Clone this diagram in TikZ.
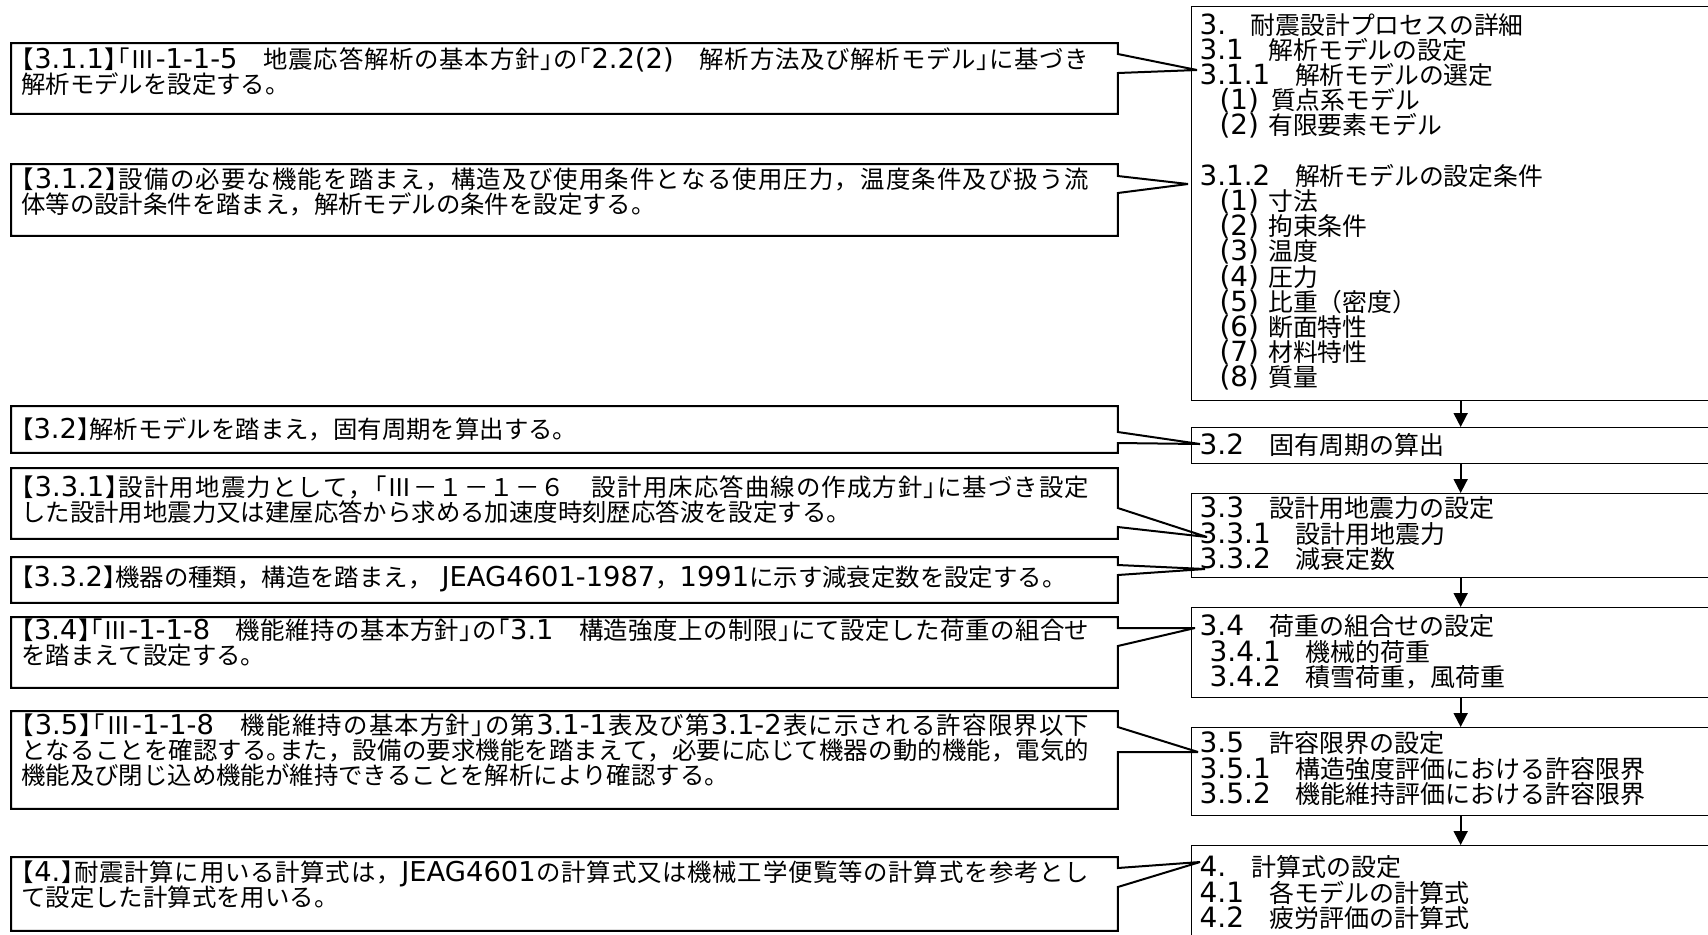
\documentclass[tikz,border=0pt]{standalone}
\usepackage{fontspec}
\setmainfont{DejaVu Sans}[Scale=1.12]
\newfontfamily\jpfont{Noto Sans CJK JP}
\newfontfamily\brfont{Noto Sans CJK JP}[CharacterWidth=AlternateHalf]
\newfontfamily\lafont{DejaVu Sans}[Scale=1.12]
\usetikzlibrary{arrows.meta}
% kana, kanji and full-width forms in the Japanese font, brackets half width,
% stretchable glue between the characters so that lines can be justified
\XeTeXinterchartokenstate=1
\newXeTeXintercharclass\jpclass
\newXeTeXintercharclass\brclass
\newcount\jpcnt
\jpcnt="2150 \loop\XeTeXcharclass\jpcnt=\jpclass \advance\jpcnt by 1 \ifnum\jpcnt<"2190 \repeat
\jpcnt="3000 \loop\XeTeXcharclass\jpcnt=\jpclass \advance\jpcnt by 1 \ifnum\jpcnt<"A000 \repeat
\jpcnt="FF00 \loop\XeTeXcharclass\jpcnt=\jpclass \advance\jpcnt by 1 \ifnum\jpcnt<"FFF0 \repeat
\XeTeXcharclass"3010=\brclass \XeTeXcharclass"3011=\brclass
\XeTeXcharclass"300C=\brclass \XeTeXcharclass"300D=\brclass
\XeTeXcharclass"3002=\brclass
\def\jpglue{\hskip0pt plus0.5em minus0.04em\relax}
\XeTeXinterchartoks 0 \jpclass = {\jpglue\jpfont}
\XeTeXinterchartoks 4095 \jpclass = {\jpfont}
\XeTeXinterchartoks \brclass \jpclass = {\jpglue\jpfont}
\XeTeXinterchartoks \jpclass \jpclass = {\jpglue}
\XeTeXinterchartoks 0 \brclass = {\jpglue\brfont}
\XeTeXinterchartoks 4095 \brclass = {\brfont}
\XeTeXinterchartoks \jpclass \brclass = {\jpglue\brfont}
\XeTeXinterchartoks \brclass \brclass = {\jpglue}
\XeTeXinterchartoks \jpclass 0 = {\jpglue\lafont}
\XeTeXinterchartoks \brclass 0 = {\jpglue\lafont}
\XeTeXinterchartoks \jpclass 4095 = {\lafont}
\XeTeXinterchartoks \brclass 4095 = {\lafont}

\begin{document}
\begin{tikzpicture}[x=0.5pt, y=-0.5pt,
    font={\fontsize{12.2pt}{12.4pt}\selectfont\lineskiplimit=-20pt},
    memo/.style={anchor=north west, inner xsep=5pt, inner ysep=0pt, text width=543pt,
        execute at begin node={\rightskip=9pt\relax}},
    item/.style={draw, line width=0.65pt, anchor=north west, inner xsep=4pt, inner ysep=0pt,
        text width=261pt, align=left, font={\fontsize{12.5pt}{12.75pt}\selectfont\lineskiplimit=-20pt}},
    wedge/.style={line width=1pt, miter limit=2},
    down/.style={-{Triangle[length=7pt,width=7pt]}, line width=0.9pt}]
    \useasboundingbox (0,0) rectangle (1708,934);
    \fill[white] (0,0) rectangle (1708,934);
    \clip (0,0) rectangle (1708,934);

    % right column
    \node[item, text height=13.7pt, text depth=183.3pt, font={\fontsize{12.4pt}{12.6pt}\selectfont\lineskiplimit=-20pt}] (s31) at (1191,6) {3.　耐震設計プロセスの詳細\\3.1　解析モデルの設定\\3.1.1　解析モデルの選定\\\hspace*{10pt}(1)\hspace{6pt}質点系モデル\\\hspace*{10pt}(2) 有限要素モデル\\[12.6pt]3.1.2　解析モデルの設定条件\\\hspace*{10pt}(1) 寸法\\\hspace*{10pt}(2) 拘束条件\\\hspace*{10pt}(3) 温度\\\hspace*{10pt}(4) 圧力\\\hspace*{10pt}(5) 比重（密度）\\\hspace*{10pt}(6) 断面特性\\\hspace*{10pt}(7) 材料特性\\\hspace*{10pt}(8) 質量};
    \node[item, text height=13.5pt, text depth=4.5pt] (s32) at (1191,427) {3.2　固有周期の算出};
    \node[item, text height=12pt, text depth=30pt] (s33) at (1191,493) {3.3　設計用地震力の設定\\3.3.1　設計用地震力\\3.3.2　減衰定数};
    \node[item, text height=14pt, text depth=31pt] (s34) at (1191,607) {3.4　荷重の組合せの設定\\\hspace*{5pt}3.4.1　機械的荷重\\\hspace*{5pt}3.4.2　積雪荷重，風荷重};
    \node[item, text height=12.5pt, text depth=31.5pt] (s35) at (1191,727) {3.5　許容限界の設定\\3.5.1　構造強度評価における許容限界\\3.5.2　機能維持評価における許容限界};
    \node[item, text height=15.5pt, text depth=42pt] (s4) at (1191,845) {4.　計算式の設定\\4.1　各モデルの計算式\\4.2　疲労評価の計算式};
    \foreach \a/\b in {s31/s32, s32/s33, s33/s34, s34/s35, s35/s4}
        \draw[down] (\a.south) -- (\b.north);

    % left column
    \node[memo, text height=12.45pt, text depth=22.55pt] (m311) at (11,43) {【3.1.1】「Ⅲ-1-1-5　地震応答解析の基本方針」の「2.2(2)　解析方法及び解析モデル」に基づき\linebreak 解析モデルを設定する。};
    \node[memo, text height=12.2pt, text depth=23.3pt] (m312) at (11,164) {【3.1.2】設備の必要な機能を踏まえ，構造及び使用条件となる使用圧力，温度条件及び扱う流\linebreak 体等の設計条件を踏まえ，解析モデルの条件を設定する。};
    \node[memo, text height=16pt, text depth=7pt] (m32) at (11,406) {【3.2】解析モデルを踏まえ，固有周期を算出する。};
    \node[memo, text height=13.95pt, text depth=21.05pt] (m331) at (11,468) {【3.3.1】設計用地震力として，「Ⅲ－１－１－６　設計用床応答曲線の作成方針」に基づき設定\linebreak した設計用地震力又は建屋応答から求める加速度時刻歴応答波を設定する。};
    \node[memo, text height=14.5pt, text depth=8pt] (m332) at (11,557) {【3.3.2】機器の種類，構造を踏まえ， JEAG4601-1987，1991に示す減衰定数を設定する。};
    \node[memo, text height=11.2pt, text depth=23.8pt] (m34) at (11,617) {【3.4】「Ⅲ-1-1-8　機能維持の基本方針」の「3.1　構造強度上の制限」にて設定した荷重の組合せ\linebreak を踏まえて設定する。};
    \node[memo, text height=11.5pt, text depth=37pt] (m35) at (11,711) {【3.5】「Ⅲ-1-1-8　機能維持の基本方針」の第3.1-1表及び第3.1-2表に示される許容限界以下\linebreak となることを確認する。また，設備の要求機能を踏まえて，必要に応じて機器の動的機能，電気的\linebreak 機能及び閉じ込め機能が維持できることを解析により確認する。};
    \node[memo, text height=11.95pt, text depth=24.55pt] (m4) at (11,857) {【4.】耐震計算に用いる計算式は，JEAG4601の計算式又は機械工学便覧等の計算式を参考とし\linebreak て設定した計算式を用いる。};

    % callout tips
    \coordinate (t311) at (1197,70);
    \coordinate (t312) at (1188,184);
    \coordinate (t32) at (1200,444);
    \coordinate (t331) at (1207,537);
    \coordinate (t332) at (1205,569);
    \coordinate (t34) at (1195,628);
    \coordinate (t35) at (1198,752);
    \coordinate (t4) at (1200,862);
    \foreach \k/\ya/\yb in {311/54/73, 312/176/193, 32/432/443, 331/508/527, 332/565/575, 34/628/646, 35/727/752, 4/868/887}
        \draw[wedge] (m\k.north west) -- (m\k.north east) -- (m\k.east |- 0,\ya) -- (t\k) -- (m\k.east |- 0,\yb) -- (m\k.south east) -- (m\k.south west) -- cycle;
\end{tikzpicture}
\end{document}
